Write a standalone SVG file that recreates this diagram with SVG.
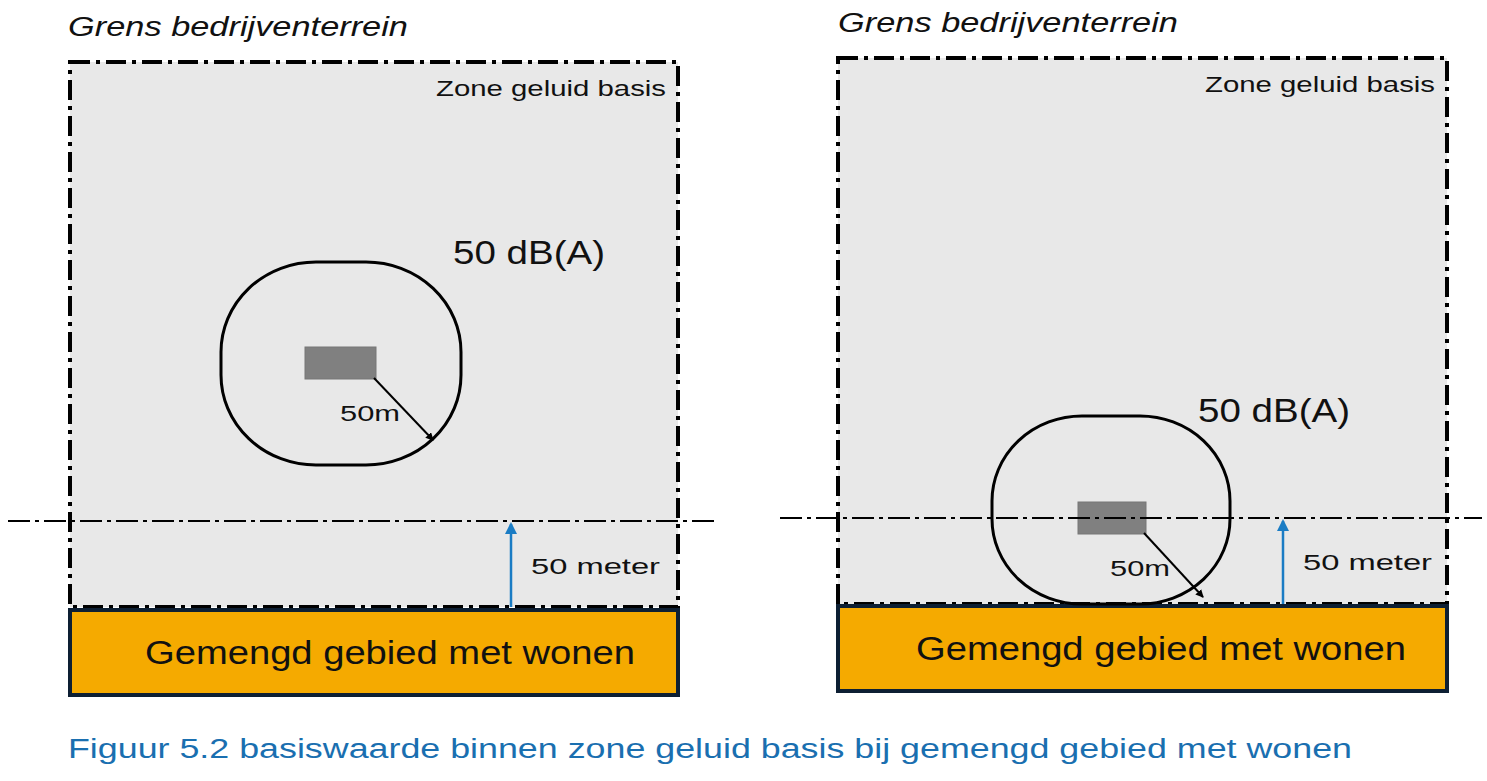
<svg xmlns="http://www.w3.org/2000/svg" width="1487" height="781" viewBox="0 0 1487 781">
<defs>
<style>
.zone{fill:#e8e8e8;stroke:#000;stroke-width:4;stroke-dasharray:20 6 4 6}
.res{fill:#f5aa00;stroke:#0d1f33;stroke-width:4}
.dd{stroke:#000;stroke-width:2;stroke-dasharray:22 5 4 5}
.ct{fill:none;stroke:#000;stroke-width:3}
.src{fill:#808080;stroke:#777;stroke-width:1}
text{font-family:"Liberation Sans",Arial,sans-serif}
.it{font-style:italic;font-size:27px;fill:#111}
.sm{font-size:22px;fill:#111}
.db{font-size:33px;fill:#111}
.big{font-size:34px;fill:#111}
</style>
<marker id="ab" markerWidth="8" markerHeight="8" refX="7" refY="4" orient="auto" markerUnits="userSpaceOnUse"><path d="M0,0 L8,4 L0,8z" fill="#000"/></marker>
<marker id="au" markerWidth="12" markerHeight="12" refX="10" refY="6" orient="auto" markerUnits="userSpaceOnUse"><path d="M0,0 L12,6 L0,12z" fill="#1a7cc4"/></marker>
</defs>
<g id="left">
<text class="it" x="68" y="36" textLength="340" lengthAdjust="spacingAndGlyphs">Grens bedrijventerrein</text>
<rect class="zone" x="70" y="62" width="608" height="545"/>
<text class="sm" x="436" y="96" textLength="230" lengthAdjust="spacingAndGlyphs">Zone geluid basis</text>
<rect class="res" x="70" y="610" width="608" height="85"/>
<text class="big" x="145" y="664" textLength="490" lengthAdjust="spacingAndGlyphs">Gemengd gebied met wonen</text>
<rect class="ct" x="221" y="262" width="240" height="203" rx="95" ry="90"/>
<rect class="src" x="305" y="347" width="71" height="32"/>
<text class="db" x="453" y="264" textLength="152" lengthAdjust="spacingAndGlyphs">50 dB(A)</text>
<text class="sm" x="340" y="421" textLength="60" lengthAdjust="spacingAndGlyphs">50m</text>
</g>
<g id="right">
<text class="it" x="838" y="32" textLength="340" lengthAdjust="spacingAndGlyphs">Grens bedrijventerrein</text>
<rect class="zone" x="838" y="58" width="609" height="546"/>
<text class="sm" x="1205" y="92" textLength="230" lengthAdjust="spacingAndGlyphs">Zone geluid basis</text>
<rect class="res" x="838" y="606" width="609" height="85"/>
<text class="big" x="916" y="660" textLength="490" lengthAdjust="spacingAndGlyphs">Gemengd gebied met wonen</text>
<rect class="ct" x="992" y="416" width="238" height="188" rx="90" ry="85"/>
<rect class="src" x="1078" y="502" width="68" height="32"/>
<text class="db" x="1198" y="422" textLength="152" lengthAdjust="spacingAndGlyphs">50 dB(A)</text>
<text class="sm" x="1110" y="576" textLength="60" lengthAdjust="spacingAndGlyphs">50m</text>
</g>
<g id="connectors">
<line class="dd" x1="8" y1="521" x2="715" y2="521"/>
<line class="dd" x1="780" y1="518" x2="1482" y2="518"/>
<line x1="511" y1="607" x2="511" y2="524" stroke="#1a7cc4" stroke-width="2.5" marker-end="url(#au)"/>
<line x1="1283" y1="604" x2="1283" y2="521" stroke="#1a7cc4" stroke-width="2.5" marker-end="url(#au)"/>
<text class="sm" x="531" y="574" textLength="129" lengthAdjust="spacingAndGlyphs">50 meter</text>
<text class="sm" x="1303" y="570" textLength="129" lengthAdjust="spacingAndGlyphs">50 meter</text>
<line x1="374" y1="378" x2="433" y2="440" stroke="#000" stroke-width="2" marker-end="url(#ab)"/>
<line x1="1144" y1="533" x2="1203" y2="597" stroke="#000" stroke-width="2" marker-end="url(#ab)"/>
</g>
<text x="68" y="758" font-family="Liberation Sans,Arial,sans-serif" font-size="27" fill="#1a6fb0" textLength="1284" lengthAdjust="spacingAndGlyphs">Figuur 5.2 basiswaarde binnen zone geluid basis bij gemengd gebied met wonen</text>
</svg>
